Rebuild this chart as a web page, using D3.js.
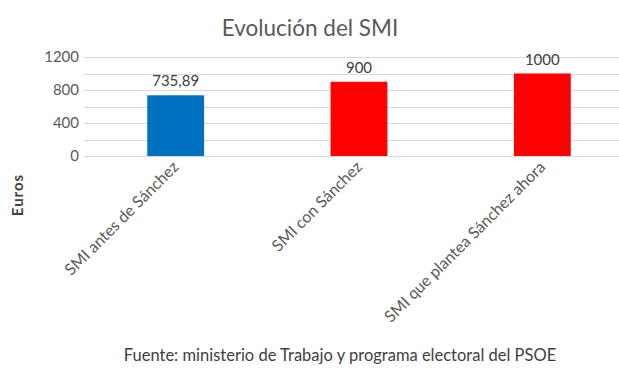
<!DOCTYPE html>
<html>
<head>
<meta charset="utf-8">
<script src="https://cdn.jsdelivr.net/npm/d3@7"></script>
<style>
  body { margin: 0; background: #fff; }
  text { font-family: Lato, "Noto Sans", sans-serif; }
</style>
</head>
<body>
<div id="grafico"></div>
<script>
const categorias = ["SMI antes de Sánchez", "SMI con Sánchez", "SMI que plantea Sánchez ahora"];
const valores = [735.89, 900, 1000];
const etiquetas = ["735,89", "900", "1000"];
const colores = ["#0070C0", "#FF0000", "#FF0000"];
const ticksY = [0, 400, 800, 1200];
const gridY = [0, 200, 400, 600, 800, 1000, 1200];

const width = 619;
const height = 373;

const svg = d3.select("#grafico")
  .append("svg")
  .attr("width", width)
  .attr("height", height);

const x = d3.scaleBand()
  .domain(categorias)
  .range([84, 634])
  .paddingInner(0.69)
  .paddingOuter(0.345);

const y = d3.scaleLinear()
  .domain([0, 1200])
  .range([156, 57]);

// titulo
svg.append("text")
  .attr("x", 310)
  .attr("y", 36)
  .attr("text-anchor", "middle")
  .attr("fill", "#595959")
  .style("font-size", "22.5px")
  .text("Evolución del SMI");

// lineas de cuadricula
svg.append("g")
  .selectAll("line")
  .data(gridY)
  .join("line")
  .attr("x1", 84)
  .attr("x2", 634)
  .attr("y1", d => Math.round(y(d)) + 0.5)
  .attr("y2", d => Math.round(y(d)) + 0.5)
  .attr("stroke", "#d9d9d9")
  .attr("stroke-width", 1);

// eje Y
svg.append("g")
  .attr("transform", "translate(79,0)")
  .call(d3.axisLeft(y).tickValues(ticksY).tickFormat(d3.format("d")).tickSize(0).tickPadding(0))
  .call(g => g.select(".domain").remove())
  .selectAll("text")
  .attr("fill", "#595959")
  .style("font-family", "Lato, sans-serif")
  .style("font-size", "15px");

// barras
svg.append("g")
  .selectAll("rect")
  .data(categorias)
  .join("rect")
  .attr("x", d => x(d))
  .attr("y", (d, i) => y(valores[i]))
  .attr("width", x.bandwidth())
  .attr("height", (d, i) => y(0) - y(valores[i]))
  .attr("fill", (d, i) => colores[i]);

// etiquetas de valor
svg.append("g")
  .selectAll("text")
  .data(categorias)
  .join("text")
  .attr("x", d => x(d) + x.bandwidth() / 2)
  .attr("y", (d, i) => y(valores[i]) - 9)
  .attr("text-anchor", "middle")
  .attr("fill", "#404040")
  .style("font-size", "15px")
  .text((d, i) => etiquetas[i]);

// etiquetas de categoria (rotadas)
svg.append("g")
  .selectAll("text")
  .data(categorias)
  .join("text")
  .attr("transform", d => `translate(${x(d) + x.bandwidth() / 2 + 4},${168}) rotate(-45)`)
  .attr("text-anchor", "end")
  .attr("fill", "#595959")
  .style("font-size", "16px")
  .text(d => d);

// titulo eje Y
svg.append("text")
  .attr("transform", "translate(23,195) rotate(-90)")
  .attr("text-anchor", "middle")
  .attr("fill", "#404040")
  .style("font-size", "15px")
  .style("font-weight", "bold")
  .style("letter-spacing", "1px")
  .text("Euros");

// fuente
svg.append("text")
  .attr("x", 340)
  .attr("y", 361)
  .attr("text-anchor", "middle")
  .attr("fill", "#404040")
  .style("font-size", "16.5px")
  .text("Fuente: ministerio de Trabajo y programa electoral del PSOE");
</script>
</body>
</html>
